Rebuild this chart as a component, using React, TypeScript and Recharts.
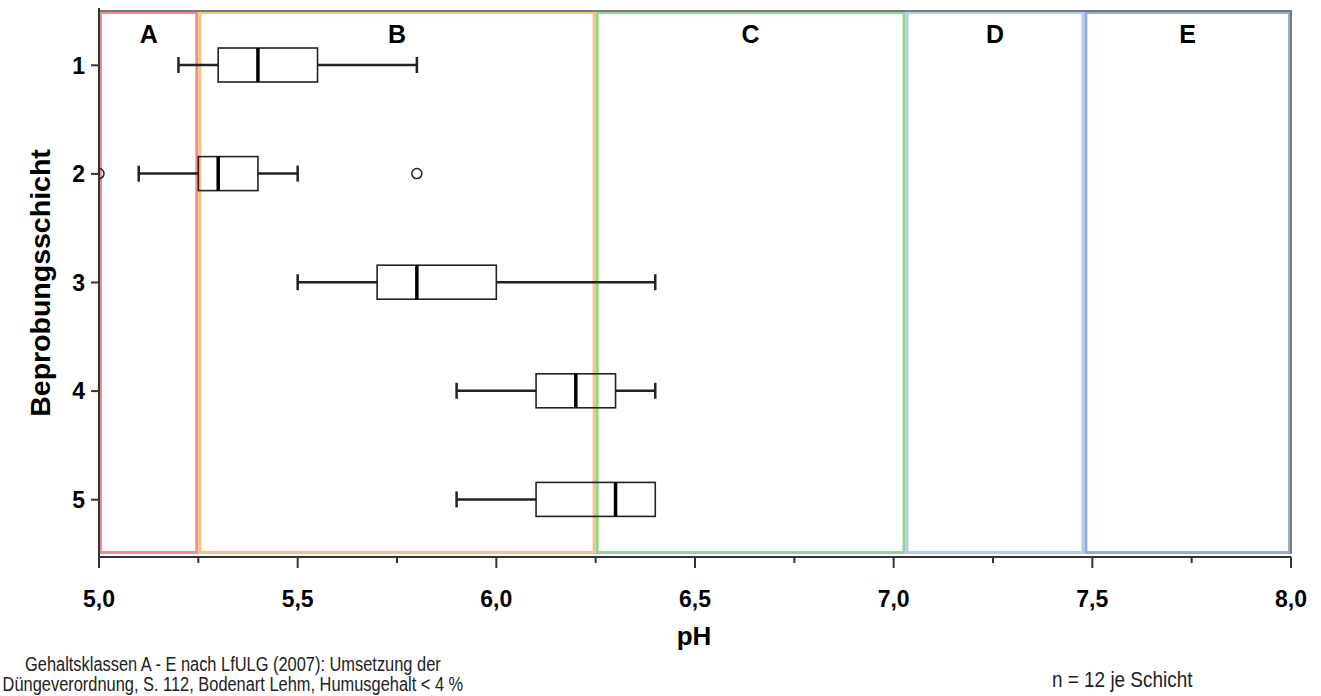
import { ComposedChart, Bar, XAxis, YAxis, ReferenceArea } from 'recharts'

// Beprobungsschicht 1-5, pH per Schicht (Boxplot-Kennwerte)
const LAYERS = ['1', '2', '3', '4', '5']
const WHISKER_LOW = [5.2, 5.1, 5.5, 5.9, 5.9]
const Q1 = [5.3, 5.25, 5.7, 6.1, 6.1]
const MEDIAN = [5.4, 5.3, 5.8, 6.2, 6.3]
const Q3 = [5.55, 5.4, 6.0, 6.3, 6.4]
const WHISKER_HIGH = [5.8, 5.5, 6.4, 6.4, 6.4]
const OUTLIERS: number[][] = [[], [5.0, 5.8], [], [], []]

// Gehaltsklassen A - E
const CLASS_NAMES = ['A', 'B', 'C', 'D', 'E']
const CLASS_FROM = [5.0, 5.25, 6.25, 7.03, 7.48]
const CLASS_TO = [5.25, 6.25, 7.03, 7.48, 8.0]
const CLASS_COLORS = ['#f28b8b', '#f9c27f', '#8fd68f', '#b5cdef', '#97a9dd']

const X_TICKS = [5.0, 5.25, 5.5, 5.75, 6.0, 6.25, 6.5, 6.75, 7.0, 7.25, 7.5, 7.75, 8.0]

const FONT = '"Liberation Sans", Arial, sans-serif'
const INK = '#222'

const data = LAYERS.map((layer, i) => {
  const all = [WHISKER_LOW[i], WHISKER_HIGH[i], ...OUTLIERS[i]]
  return {
    layer,
    lo: Math.min(...all),
    hi: Math.max(...all),
    wLow: WHISKER_LOW[i],
    q1: Q1[i],
    median: MEDIAN[i],
    q3: Q3[i],
    wHigh: WHISKER_HIGH[i],
    outliers: OUTLIERS[i],
  }
})

function BoxShape(props: any) {
  const { x, y, width, height, payload } = props
  const span = payload.hi - payload.lo
  const px = (v: number) => x + ((v - payload.lo) / span) * width
  const cy = y + height / 2
  const cap = 8
  return (
    <g>
      {payload.wLow < payload.q1 && (
        <g>
          <line x1={px(payload.wLow)} x2={px(payload.q1)} y1={cy} y2={cy} stroke={INK} strokeWidth={2.5} />
          <line x1={px(payload.wLow)} x2={px(payload.wLow)} y1={cy - cap} y2={cy + cap} stroke={INK} strokeWidth={2.5} />
        </g>
      )}
      {payload.wHigh > payload.q3 && (
        <g>
          <line x1={px(payload.q3)} x2={px(payload.wHigh)} y1={cy} y2={cy} stroke={INK} strokeWidth={2.5} />
          <line x1={px(payload.wHigh)} x2={px(payload.wHigh)} y1={cy - cap} y2={cy + cap} stroke={INK} strokeWidth={2.5} />
        </g>
      )}
      <rect x={px(payload.q1)} y={y} width={px(payload.q3) - px(payload.q1)} height={height} fill="none" stroke={INK} strokeWidth={1.6} />
      <line x1={px(payload.median)} x2={px(payload.median)} y1={y} y2={y + height} stroke="#000" strokeWidth={3.5} />
      {payload.outliers.map((o: number, k: number) => (
        <circle key={k} cx={px(o)} cy={cy} r={5} fill="none" stroke={INK} strokeWidth={1.5} />
      ))}
    </g>
  )
}

function XTick(props: any) {
  const { x, y, payload } = props
  const v = payload.value
  const major = Math.abs(v * 2 - Math.round(v * 2)) < 1e-6
  return (
    <g>
      <line x1={x} x2={x} y1={y} y2={y + (major ? 11 : 6)} stroke="#333" strokeWidth={2} />
      {major && (
        <text x={x} y={y + 50} textAnchor="middle" fontFamily={FONT} fontWeight="bold" fontSize={23} fill="#000">
          {v.toFixed(1).replace('.', ',')}
        </text>
      )}
    </g>
  )
}

function YTick(props: any) {
  const { x, y, payload } = props
  return (
    <text x={x} y={y} dy="0.36em" textAnchor="end" fontFamily={FONT} fontWeight="bold" fontSize={23} fill="#000">
      {payload.value}
    </text>
  )
}

function zoneShape(color: string) {
  return (p: any) => (
    <rect x={p.x + 1.5} y={p.y + 1.5} width={p.width - 3} height={p.height - 3} fill="none" stroke={color} strokeWidth={3} />
  )
}

function zoneLabel(p: any) {
  const vb = p.viewBox
  return (
    <text x={vb.x + vb.width / 2} y={vb.y + 32} textAnchor="middle" fontFamily={FONT} fontWeight="bold" fontSize={25} fill="#000">
      {p.value}
    </text>
  )
}

function frameShape(p: any) {
  return (
    <polyline
      points={`${p.x},${p.y} ${p.x + p.width},${p.y} ${p.x + p.width},${p.y + p.height}`}
      fill="none"
      stroke="#7a7a7a"
      strokeWidth={2}
    />
  )
}

export default function App() {
  return (
    <div style={{ position: 'absolute', left: 0, top: 0, width: 1321, height: 696, background: '#fff', fontFamily: FONT }}>
      <ComposedChart
        width={1321}
        height={696}
        layout="vertical"
        data={data}
        margin={{ top: 8, right: 30, left: 0, bottom: 0 }}
      >
        <XAxis
          type="number"
          domain={[5, 8]}
          ticks={X_TICKS}
          interval={0}
          height={139}
          tickSize={0}
          tickMargin={0}
          tickLine={false}
          tick={<XTick />}
          axisLine={{ stroke: '#333', strokeWidth: 2 }}
          allowDataOverflow
        />
        <YAxis
          type="category"
          dataKey="layer"
          width={99}
          padding={{ top: 3, bottom: 3 }}
          tickSize={8}
          tickMargin={6}
          tickLine={{ stroke: '#333', strokeWidth: 2 }}
          tick={<YTick />}
          axisLine={{ stroke: '#333', strokeWidth: 2 }}
        />
        {CLASS_NAMES.map((name, i) => (
          <ReferenceArea
            key={name}
            x1={CLASS_FROM[i]}
            x2={CLASS_TO[i]}
            shape={zoneShape(CLASS_COLORS[i])}
            label={{ value: name, content: zoneLabel }}
          />
        ))}
        <ReferenceArea x1={5} x2={8} shape={frameShape} />
        <Bar
          dataKey={(d: any) => [d.lo, d.hi]}
          barSize={34}
          shape={<BoxShape />}
          isAnimationActive={false}
        />
      </ComposedChart>

      <div
        style={{
          position: 'absolute',
          left: 40,
          top: 283,
          transform: 'translate(-50%, -50%) rotate(-90deg)',
          whiteSpace: 'nowrap',
          fontWeight: 'bold',
          fontSize: 28.5,
          color: '#000',
        }}
      >
        Beprobungsschicht
      </div>
      <div
        style={{
          position: 'absolute',
          left: 694,
          top: 636,
          transform: 'translate(-50%, -50%)',
          whiteSpace: 'nowrap',
          fontWeight: 'bold',
          fontSize: 26,
          color: '#000',
        }}
      >
        pH
      </div>
      <div
        style={{
          position: 'absolute',
          left: 0,
          top: 654,
          width: 568,
          transform: 'scaleX(0.82)',
          transformOrigin: 'left top',
          textAlign: 'center',
          fontSize: 20,
          lineHeight: '20px',
          color: '#222',
        }}
      >
        Gehaltsklassen A - E nach LfULG (2007): Umsetzung der
        <br />
        Düngeverordnung, S. 112, Bodenart Lehm, Humusgehalt &lt; 4 %
      </div>
      <div
        style={{
          position: 'absolute',
          left: 1052,
          top: 669,
          transform: 'scaleX(0.86)',
          transformOrigin: 'left top',
          whiteSpace: 'nowrap',
          fontSize: 22,
          lineHeight: '22px',
          color: '#222',
        }}
      >
        n = 12 je Schicht
      </div>
    </div>
  )
}
